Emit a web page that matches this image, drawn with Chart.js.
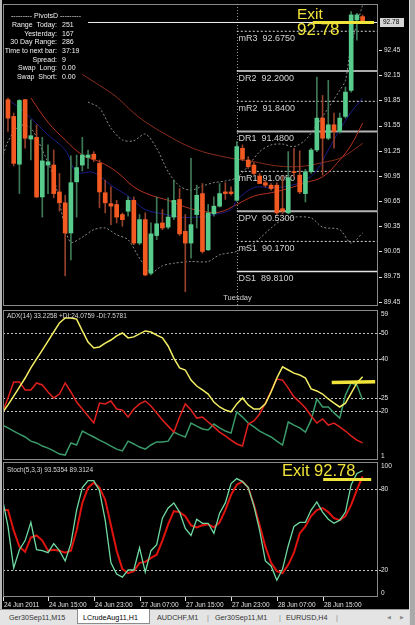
<!DOCTYPE html>
<html>
<head>
<meta charset="utf-8">
<title>LCrudeAug11,H1</title>
<script src="https://cdn.jsdelivr.net/npm/chart.js@4.4.1/dist/chart.umd.min.js"></script>
<style>
  html, body { margin: 0; padding: 0; }
  body { width: 415px; height: 625px; background: #000; position: relative; overflow: hidden;
         font-family: "Liberation Sans", Arial, sans-serif; }
  canvas { position: absolute; left: 0; }
  #main { top: 0; }
  #adx { top: 308px; }
  #stoch { top: 461px; }
  .t { position: absolute; white-space: pre; line-height: 1; }
  .info { color: #f0f0f0; font-size: 7px; }
  .exit { color: #f0e33a; }
  .ind { color: #d8d8d8; font-size: 6.5px; }
  #tabs { position: absolute; left: 0; top: 609px; width: 409px; height: 16px; background: #e4e4e4;
          border-top: 1px solid #9a9a9a; box-sizing: border-box; }
  .tab { position: absolute; top: 4px; font-size: 7.2px; color: #333; white-space: pre; line-height: 1; }
  #sel { position: absolute; left: 77px; top: -1px; width: 73px; height: 15px; background: #fff;
         border: 1px solid #8c8c8c; border-top: none; box-sizing: border-box; }
  #rstrip { position: absolute; left: 409px; top: 0; width: 6px; height: 625px; background: #a9a9a9;
            border-left: 1px solid #dcdcdc; box-sizing: border-box; }
  #lstrip { position: absolute; left: 0; top: 0; width: 2px; height: 609px; background: #b8b8b8; }
</style>
</head>
<body>
<canvas id="main" width="409" height="308"></canvas>
<canvas id="adx" width="409" height="153"></canvas>
<canvas id="stoch" width="409" height="148"></canvas>
<div id="lstrip"></div>
<div id="rstrip"></div>

<div class="t exit" style="left:297px; top:6px; font-size:15.5px;">Exit</div>
<div class="t exit" style="left:297px; top:21px; font-size:17px;">92.78</div>
<div class="t exit" style="left:282px; top:462px; font-size:16.5px;">Exit 92.78</div>
<div class="t ind" style="left:7px; top:313px;">ADX(14) 33.2258 +DI:24.0759 -DI:7.5781</div>
<div class="t ind" style="left:7px; top:467px;">Stoch(5,3,3) 93.5354 89.3124</div>

<div id="tabs">
  <div class="tab" style="left:9px;">Ger30Sep11,M15</div>
  <div id="sel"></div>
  <div class="tab" style="left:83px; color:#000;">LCrudeAug11,H1</div>
  <div class="tab" style="left:157px;">AUDCHF,M1</div>
  <div class="tab" style="left:207px; color:#888;">|</div>
  <div class="tab" style="left:215px;">Ger30Sep11,M1</div>
  <div class="tab" style="left:279px; color:#888;">|</div>
  <div class="tab" style="left:286px;">EURUSD,H4</div>
  <div class="tab" style="left:336px; color:#888;">|</div>
  <div class="tab" style="left:387px; color:#8a8a8a; font-family:'DejaVu Sans'; font-size:5px; top:5px;">◀</div>
  <div class="tab" style="left:400px; color:#8a8a8a; font-family:'DejaVu Sans'; font-size:5px; top:5px;">▶</div>
</div>

<script>
// hourly candles, bar 0 = 24 Jun 08:00
const opens  = [91.86, 91.66, 91.09, 91.86, 91.39, 91.41, 90.70, 91.08, 91.08, 90.76,
                90.63, 90.27, 90.88, 91.08, 91.17, 91.21, 91.10, 90.75, 90.62, 90.61,
                90.49, 90.53, 90.66, 90.15, 90.43, 89.79, 90.24, 90.39, 90.34, 90.46,
                90.67, 90.29, 90.15, 90.49, 90.74, 90.07, 90.50, 90.59, 90.76, 90.76,
                90.66, 91.28, 91.14, 91.08, 90.95, 90.87, 90.84, 90.84, 90.56, 90.51,
                91.00, 90.96, 90.74, 91.00, 91.26, 91.64, 91.40, 91.56, 91.48, 91.66,
                91.97, 92.81, 92.85];
const highs  = [91.88, 91.70, 91.86, 91.86, 91.62, 91.56, 91.41, 91.32, 91.26, 90.98,
                90.72, 91.19, 91.20, 91.41, 91.26, 91.24, 91.14, 90.90, 90.82, 90.66,
                90.51, 90.70, 90.70, 90.49, 90.51, 90.39, 90.70, 90.55, 90.69, 90.90,
                90.80, 90.49, 91.16, 90.84, 90.86, 90.61, 90.70, 90.86, 90.87, 90.82,
                91.36, 91.32, 91.18, 91.11, 90.98, 90.90, 90.86, 90.87, 90.95, 91.24,
                91.28, 91.25, 91.03, 91.28, 92.13, 91.91, 92.09, 91.70, 91.70, 92.01,
                92.91, 92.89, 92.87];
const lows   = [91.48, 91.07, 90.74, 91.28, 91.14, 90.69, 90.46, 90.74, 90.69, 90.53,
                89.76, 89.95, 90.46, 91.01, 91.04, 91.12, 90.57, 90.51, 90.37, 90.39,
                90.35, 90.47, 90.13, 90.13, 89.76, 89.77, 90.19, 90.31, 90.32, 90.43,
                90.24, 89.57, 89.97, 90.33, 90.03, 90.06, 90.47, 90.58, 90.67, 90.72,
                90.65, 91.13, 91.04, 90.96, 90.86, 90.82, 90.78, 90.49, 90.50, 90.50,
                90.94, 90.74, 90.64, 90.98, 91.24, 90.96, 91.38, 91.28, 91.46, 91.64,
                91.95, 92.57, 92.78];
const closes = [91.64, 91.10, 91.85, 91.40, 91.43, 90.70, 91.13, 91.12, 90.74, 90.63,
                90.27, 90.87, 91.05, 91.20, 91.20, 91.15, 90.76, 90.63, 90.59, 90.46,
                90.43, 90.66, 90.15, 90.43, 89.77, 90.26, 90.38, 90.33, 90.46, 90.66,
                90.26, 90.15, 90.37, 90.72, 90.05, 90.51, 90.59, 90.74, 90.74, 90.74,
                91.30, 91.15, 91.06, 90.98, 90.86, 90.84, 90.80, 90.51, 90.53, 90.93,
                90.99, 90.76, 91.00, 91.26, 91.64, 91.40, 91.56, 91.48, 91.64, 91.95,
                92.87, 92.87, 92.79];

// moving averages and bands, [bar, price]
const maFast = [[0, 91.86], [2, 91.76], [4, 91.64], [7, 91.44], [10, 91.26], [12, 91.00], [15, 90.99],
                [18, 90.84], [21, 90.71], [24, 90.55], [27, 90.50], [30, 90.46], [33, 90.46], [36, 90.49],
                [39, 90.55], [40, 90.66], [43, 90.81], [46, 90.81], [49, 90.83], [52, 90.90], [54, 91.02],
                [56, 91.26], [58, 91.50], [60, 91.71], [62, 91.88]];
const maMid  = [[4, 91.88], [7, 91.59], [10, 91.38], [13, 91.20], [16, 91.12], [19, 91.00], [22, 90.82],
                [25, 90.72], [28, 90.66], [31, 90.58], [34, 90.53], [37, 90.52], [40, 90.61], [43, 90.71],
                [46, 90.75], [49, 90.80], [52, 90.87], [55, 90.94], [58, 91.14], [60, 91.32], [62, 91.58]];
const maSlow = [[13, 92.16], [16, 92.03], [19, 91.89], [22, 91.70], [25, 91.55], [28, 91.43], [31, 91.32],
                [34, 91.24], [37, 91.19], [40, 91.15], [43, 91.12], [46, 91.08], [49, 91.06], [52, 91.07],
                [55, 91.11], [58, 91.16], [60, 91.24], [62, 91.34]];
const bandUpper = [[14, 91.83], [16, 91.76], [18, 91.52], [20, 91.38], [22, 91.37], [24, 91.45], [26, 91.28],
                   [28, 91.00], [30, 90.83], [32, 90.78], [34, 90.83], [36, 90.87], [38, 90.89], [40, 90.93],
                   [42, 91.07], [44, 91.24], [46, 91.32], [48, 91.33], [50, 91.30], [52, 91.38], [54, 91.56],
                   [56, 91.76], [58, 91.97], [59, 92.09], [60, 92.51], [62, 92.99]];
const bandLower = [[-1, 91.16], [0, 91.36], [2, 91.55], [4, 91.52], [6, 91.26], [8, 90.93], [10, 90.33],
                   [11, 90.16], [13, 90.22], [15, 90.31], [17, 90.33], [19, 90.25], [21, 90.19], [23, 89.97],
                   [25, 89.80], [27, 89.88], [29, 89.91], [32, 89.93], [35, 89.93], [37, 90.01], [40, 90.05],
                   [43, 90.15], [46, 90.33], [48, 90.43], [50, 90.46], [53, 90.45], [55, 90.34], [58, 90.31],
                   [60, 90.15], [62, 90.27]];

// daily pivots for Tuesday
const pivotNames  = ['mR3', 'DR2', 'mR2', 'DR1', 'mR1', 'DPV', 'mS1', 'DS1'];
const pivotValues = [92.675, 92.20, 91.84, 91.48, 91.005, 90.53, 90.17, 89.81];
const dayBreakBar = 40;
const lastPrice = 92.78;
const priceLineFrom = 14;
const exitMain  = [[53.3, 92.78], [64.0, 92.78]];
const exitAdx   = [[56.6, 31.0], [64.2, 31.3]];
const exitStoch = [[55.1, 87.0], [63.5, 87.0]];

const priceTicks = [92.45, 92.15, 91.85, 91.55, 91.25, 90.95, 90.65, 90.35, 90.05, 89.75, 89.45];

// indicators, first value is bar -1
const firstIndBar = -1;
const adxLine = [19.2, 22.3, 25.7, 29.2, 32.7, 36.6, 40.1, 43.5, 47.0, 50.5, 54.0,
                 55.9, 55.9, 55.5, 50.9, 46.6, 44.3, 44.7, 46.2, 47.4, 49.0,
                 50.1, 48.2, 48.6, 49.8, 50.9, 50.5, 49.3, 48.2, 45.1, 40.4,
                 36.6, 35.8, 31.9, 29.6, 28.1, 26.5, 23.4, 21.5, 20.3, 19.6,
                 22.7, 25.0, 22.3, 20.7, 20.7, 22.7, 27.3, 32.7, 37.0, 35.8,
                 34.6, 33.9, 32.7, 28.5, 27.7, 26.5, 24.6, 23.0, 21.5, 23.0,
                 26.9, 30.8, 33.2];
const plusDI  = [14.5, 13.4, 12.2, 11.0, 9.9, 8.3, 7.6, 6.4, 5.6, 4.5, 3.3,
                 2.9, 7.6, 6.8, 12.2, 11.0, 9.9, 8.7, 7.6, 6.4, 5.2,
                 4.5, 8.3, 7.2, 6.0, 5.2, 6.8, 8.0, 8.0, 8.3, 11.8,
                 10.7, 9.9, 15.3, 14.1, 13.0, 12.6, 14.9, 13.4, 12.2, 11.4,
                 19.6, 17.6, 15.3, 13.8, 12.2, 11.0, 9.9, 8.3, 6.8, 15.7,
                 14.5, 13.4, 11.8, 16.5, 24.6, 21.5, 21.5, 19.2, 17.2, 26.1,
                 30.8, 30.0, 24.2];
const minusDI = [19.2, 25.0, 31.2, 31.2, 28.1, 28.1, 30.8, 30.0, 27.3, 25.0, 26.5,
                 30.8, 27.3, 23.4, 20.7, 18.0, 15.3, 23.0, 22.7, 23.8, 20.7,
                 20.3, 17.6, 20.7, 22.7, 23.8, 21.9, 19.2, 16.5, 14.1, 11.8,
                 17.6, 22.7, 20.3, 17.2, 17.6, 15.7, 13.8, 11.8, 10.3, 8.7,
                 7.2, 6.4, 14.9, 16.1, 18.8, 23.0, 27.7, 32.3, 31.9, 28.8,
                 25.4, 23.4, 21.1, 18.0, 15.3, 16.9, 14.5, 15.3, 13.8, 12.2,
                 10.3, 8.7, 7.6];
const adxLevels = [50, 40, 25, 20];
const adxTicks  = [59, 50, 40, 25, 20, 1];

const stochK = [73.4, 52.3, 21.5, 35.0, 41.8, 55.3, 35.0, 34.3, 32.8, 39.5, 34.3,
                26.7, 39.5, 64.4, 81.0, 86.2, 86.2, 78.7, 56.9, 25.3, 17.0,
                14.7, 20.0, 20.0, 36.5, 18.5, 34.3, 38.8, 58.4, 65.9, 69.7,
                62.9, 50.8, 45.6, 57.6, 54.6, 54.6, 47.1, 62.1, 69.7, 84.0,
                87.7, 85.5, 81.0, 67.4, 49.3, 26.7, 23.0, 12.4, 20.7, 38.0,
                52.3, 55.3, 55.3, 64.4, 70.4, 62.9, 57.6, 54.6, 56.9, 62.9,
                83.2, 91.5, 93.5];
const stochD = [64.4, 64.4, 49.3, 37.3, 33.5, 44.1, 45.6, 41.8, 34.3, 35.0, 34.3,
                32.8, 34.3, 49.3, 69.7, 81.0, 84.7, 81.0, 71.9, 53.1, 34.3,
                20.7, 17.7, 19.2, 25.3, 26.0, 29.0, 31.3, 41.8, 53.8, 63.6,
                62.9, 59.9, 53.1, 51.6, 53.1, 53.8, 51.6, 55.3, 64.4, 75.7,
                83.2, 85.5, 81.0, 68.2, 53.1, 37.3, 25.3, 19.2, 17.7, 23.8,
                32.8, 47.1, 52.3, 59.9, 64.4, 65.9, 62.9, 58.4, 56.9, 59.9,
                68.2, 79.4, 89.3];
const stochLevels = [80, 20];
const stochTicks  = [100, 80, 20, 0];

const timeTickBars   = [-1, 7, 15, 23, 31, 39, 47, 55];
const timeTickLabels = ['24 Jun 2011', '24 Jun 15:00', '24 Jun 23:00', '27 Jun 07:00',
                        '27 Jun 15:00', '27 Jun 23:00', '28 Jun 07:00', '28 Jun 15:00'];

const infoLabels = ['Range  Today:', 'Yesterday:', '30 Day Range:', 'Time to next bar:', 'Spread:', 'Swap  Long:', 'Swap  Short:'];
const infoValues = ['251', '167', '286', '37:19', '9', '0.00', '0.00'];

const xMin = -0.87, xMax = 64.69;
const BULL = '#58cc8c', BEAR = '#f25a22';
const BULL_WICK = '#3f7a58', BEAR_WICK = '#94402a';
const FONT = '"Liberation Sans", Arial, sans-serif';

// info block, top left
(function () {
  const head = document.createElement('div');
  head.className = 't info';
  head.style.cssText = 'left:0;width:92px;text-align:center;top:12.3px;';
  head.textContent = '--------- PivotsD ---------';
  document.body.appendChild(head);
  infoLabels.forEach((lab, i) => {
    const top = 24.3 + 8.7 * i - 3.4;
    const l = document.createElement('div');
    l.className = 't info';
    l.style.cssText = 'left:0;width:57px;text-align:right;top:' + top + 'px;';
    l.textContent = lab;
    const v = document.createElement('div');
    v.className = 't info';
    v.style.cssText = 'left:62px;top:' + top + 'px;';
    v.textContent = infoValues[i];
    document.body.appendChild(l);
    document.body.appendChild(v);
  });
})();

function pairs(list) { return list.map(p => ({x: p[0], y: p[1]})); }
function series(values) { return values.map((v, i) => ({x: firstIndBar + i, y: v})); }
function isBull(i) { return closes[i] >= opens[i]; }

function lineSet(data, color, width, extra) {
  return Object.assign({type: 'line', data: data, borderColor: color, borderWidth: width,
    pointRadius: 0, fill: false, tension: 0}, extra || {});
}

// frame, level lines and right-hand labels for every panel
const panelPlugin = {
  id: 'panel',
  beforeDatasetsDraw(chart, args, opts) {
    const {ctx, chartArea: a, scales: {y}} = chart;
    ctx.save();
    ctx.strokeStyle = '#c4c4c4';
    ctx.lineWidth = 1;
    ctx.setLineDash([2, 2]);
    (opts.levels || []).forEach(v => {
      const py = Math.round(y.getPixelForValue(v)) + 0.5;
      ctx.beginPath();
      ctx.moveTo(a.left, py);
      ctx.lineTo(a.right + 3, py);
      ctx.stroke();
    });
    ctx.restore();
  },
  afterDraw(chart, args, opts) {
    const {ctx, chartArea: a, scales: {y}} = chart;
    ctx.save();
    ctx.strokeStyle = '#8a8a8a';
    ctx.lineWidth = 1;
    ctx.strokeRect(a.left + 0.5, a.top + 0.5, a.right - a.left - 1, a.bottom - a.top - 1);
    ctx.fillStyle = '#e6e6e6';
    ctx.font = '6.5px ' + FONT;
    ctx.textBaseline = 'middle';
    opts.ticks.forEach(v => {
      let py = y.getPixelForValue(v);
      py = Math.min(Math.max(py, a.top + 4), a.bottom - 4);
      if (opts.dash) {
        ctx.fillRect(a.right + 1, Math.round(py), 3, 1);
        ctx.fillText(v.toFixed(2), a.right + 6, py);
      } else {
        ctx.fillText(String(v), a.right + 3, py);
      }
    });
    ctx.restore();
  }
};

// day separator, pivot labels and the price box in the main window
const mainPlugin = {
  id: 'mainExtras',
  beforeDatasetsDraw(chart) {
    const {ctx, chartArea: a, scales: {x, y}} = chart;
    const sx = Math.round(x.getPixelForValue(dayBreakBar)) + 0.5;
    ctx.save();
    ctx.strokeStyle = '#9a9a9a';
    ctx.lineWidth = 1;
    ctx.setLineDash([1, 2]);
    ctx.beginPath();
    ctx.moveTo(sx, a.top);
    ctx.lineTo(sx, a.bottom);
    ctx.stroke();
    ctx.fillStyle = '#d2d2d2';
    ctx.font = '9px ' + FONT;
    ctx.textBaseline = 'alphabetic';
    pivotNames.forEach((n, k) => {
      const py = y.getPixelForValue(pivotValues[k]);
      ctx.fillText(n + '  ' + pivotValues[k].toFixed(4), sx + 1, py + 9.5);
    });
    ctx.font = '7.5px ' + FONT;
    ctx.textAlign = 'center';
    ctx.fillStyle = '#cfcfcf';
    ctx.fillText('Tuesday', sx, a.bottom - 6);
    ctx.restore();
  },
  afterDraw(chart) {
    const {ctx, chartArea: a, scales: {y}} = chart;
    const py = y.getPixelForValue(lastPrice);
    ctx.save();
    ctx.fillStyle = '#d6d6d6';
    ctx.fillRect(a.right + 2, Math.round(py) - 4, 24, 9);
    ctx.fillStyle = '#000';
    ctx.font = '6.5px ' + FONT;
    ctx.textBaseline = 'middle';
    ctx.fillText(lastPrice.toFixed(2), a.right + 5, Math.round(py) + 0.5);
    ctx.restore();
  }
};

const timeAxisPlugin = {
  id: 'timeAxis',
  afterDraw(chart) {
    const {ctx, chartArea: a, scales: {x}} = chart;
    ctx.save();
    ctx.fillStyle = '#e2e2e2';
    ctx.font = '6.5px ' + FONT;
    ctx.textAlign = 'left';
    ctx.textBaseline = 'alphabetic';
    timeTickBars.forEach((b, i) => {
      const px = Math.max(Math.round(x.getPixelForValue(b)), Math.round(a.left));
      ctx.fillRect(px, a.bottom, 1, 4);
      ctx.fillText(timeTickLabels[i], px + 1, a.bottom + 9.5);
    });
    ctx.restore();
  }
};

function baseOptions(yMin, yMax, padding, panel) {
  return {
    responsive: false,
    animation: false,
    events: [],
    layout: {padding: padding},
    plugins: {legend: {display: false}, tooltip: {enabled: false}, panel: panel},
    scales: {
      x: {type: 'linear', display: false, min: xMin, max: xMax, offset: false},
      y: {type: 'linear', display: false, min: yMin, max: yMax}
    }
  };
}

// main price window
const pivotSets = pivotValues.map((v, k) => {
  const name = pivotNames[k];
  const dotted = name.charAt(0) === 'm';
  const heavy = name === 'DR1' || name === 'DPV';
  return lineSet([{x: dayBreakBar, y: v}, {x: xMax + 1, y: v}],
    dotted ? '#d8d8d8' : (heavy ? '#b4b4b4' : '#e4e4e4'),
    dotted ? 1 : (heavy ? 2 : 1.5),
    {borderDash: dotted ? [2, 2] : [], order: 7});
});

new Chart(document.getElementById('main'), {
  type: 'bar',
  data: {
    datasets: [
      lineSet(pairs(exitMain), '#f0e33a', 3, {order: 0}),
      {type: 'bar', data: opens.map((o, i) => ({x: i, y: [o, closes[i]]})),
       backgroundColor: c => isBull(c.dataIndex) ? BULL : BEAR,
       barThickness: 4, grouped: false, minBarLength: 1, borderWidth: 0, order: 1},
      {type: 'bar', data: lows.map((l, i) => ({x: i, y: [l, highs[i]]})),
       backgroundColor: c => isBull(c.dataIndex) ? BULL_WICK : BEAR_WICK,
       barThickness: 1, grouped: false, borderWidth: 0, order: 2},
      lineSet(pairs(maFast), '#1c1c86', 1, {tension: 0.4, order: 3}),
      lineSet(pairs(maMid), '#b83222', 1, {tension: 0.4, order: 3}),
      lineSet(pairs(maSlow), '#8a2c1c', 1, {tension: 0.4, order: 3}),
      lineSet(pairs(bandUpper), '#8c8c8c', 1, {borderDash: [2, 2], tension: 0.3, order: 4}),
      lineSet(pairs(bandLower), '#8c8c8c', 1, {borderDash: [2, 2], tension: 0.3, order: 4}),
      lineSet([{x: priceLineFrom, y: lastPrice}, {x: xMax + 1, y: lastPrice}], '#f4f4f4', 1, {order: 6})
    ].concat(pivotSets)
  },
  options: baseOptions(89.40, 93.00, {left: 3, right: 31, top: 4, bottom: 2},
    {ticks: priceTicks, dash: true, levels: []}),
  plugins: [panelPlugin, mainPlugin]
});

// ADX window
new Chart(document.getElementById('adx'), {
  type: 'line',
  data: {
    datasets: [
      lineSet(pairs(exitAdx), '#f0e33a', 3.5),
      lineSet(series(adxLine), '#f4ee62', 1.5),
      lineSet(series(minusDI), '#e0201c', 1.5),
      lineSet(series(plusDI), '#3a9a6a', 1.5)
    ]
  },
  options: baseOptions(1, 59, {left: 3, right: 31, top: 2, bottom: 1},
    {ticks: adxTicks, dash: false, levels: adxLevels}),
  plugins: [panelPlugin]
});

// Stochastic window with the time axis under it
new Chart(document.getElementById('stoch'), {
  type: 'line',
  data: {
    datasets: [
      lineSet(pairs(exitStoch), '#f0e33a', 3),
      lineSet(series(stochK), '#6fdaa2', 1.3),
      lineSet(series(stochD), '#e0140e', 2)
    ]
  },
  options: baseOptions(0, 100, {left: 3, right: 31, top: 1, bottom: 12},
    {ticks: stochTicks, dash: false, levels: stochLevels}),
  plugins: [panelPlugin, timeAxisPlugin]
});
</script>
</body>
</html>
